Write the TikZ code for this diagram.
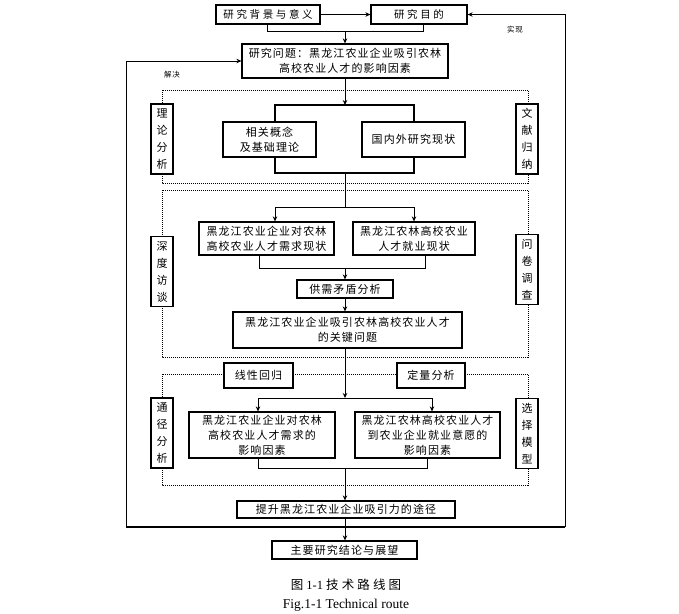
\documentclass[tikz,border=0pt]{standalone}
\usepackage{fontspec}
\setmainfont{Liberation Serif}
\newfontfamily\cjk[LetterSpace=10]{Noto Sans CJK SC}
\newfontfamily\cjkw[LetterSpace=25]{Noto Sans CJK SC}
\usetikzlibrary{arrows.meta}
\begin{document}
\begin{tikzpicture}[x=1pt,y=-1pt,
  box/.style={draw, line width=1.2pt, fill=white, inner sep=1pt, align=center,
    font=\cjk\fontsize{11}{15}\selectfont},
  side/.style={draw, line width=1.2pt, fill=white, inner sep=0pt, align=center,
    minimum width=22pt, minimum height=70pt, font=\cjk\fontsize{11}{17}\selectfont},
  conn/.style={line width=0.9pt},
  arr/.style={line width=0.9pt, -{Stealth[length=5pt,width=4.5pt]}},
  dots/.style={line width=0.9pt, dash pattern=on 1pt off 1pt},
  lab/.style={font=\cjk\fontsize{7.5}{9}\selectfont, inner sep=0pt}]
\useasboundingbox (0,0) rectangle (679,613);

% top boxes
\node[box, minimum width=104pt, minimum height=19pt, font=\cjkw\fontsize{10.5}{15}\selectfont] (bg) at (268,14.5) {研究背景与意义};
\node[box, minimum width=96pt, minimum height=19pt, font=\cjkw\fontsize{10.5}{15}\selectfont] (goal) at (419,14.5) {研究目的};
\draw[arr] (bg.east) -- (goal.west);
\coordinate (t1) at (267,31);
\coordinate (t2) at (423,31);
\coordinate (tm) at (345,31);
\draw[conn] (t1 |- bg.south) -- (t1) -- (t2) -- (t2 |- goal.south);

\node[box, minimum width=206pt, minimum height=34pt] (q) at (345,61) {研究问题：黑龙江农业企业吸引农林\\高校农业人才的影响因素};
\draw[arr] (tm) -- (q.north);

% outer loop
\coordinate (L) at (126,527);
\coordinate (R) at (565,527);
\draw[arr] (L) |- (q.west);
\draw[arr] (R) |- (goal.east);
\draw[conn, line width=1.2pt] (L) -- (R);
\node[lab] (sx) at (515,30) {实现};
\node[lab] (jj) at (172,75) {解决};

% section 1
\draw[dots] (162,90) rectangle (528,183);
\node[side] (s1l) at (162,139) {理\\论\\分\\析};
\node[side] (s1r) at (527,139) {文\\献\\归\\纳};
\coordinate (r1a) at (275,105);
\coordinate (r1b) at (414,173);
\draw[conn, line width=1.2pt] (r1a) rectangle (r1b);
\coordinate (r1t) at (345,105);
\coordinate (r1m) at (345,173);
\draw[arr] (q.south) -- (r1t);
\node[box, minimum width=93pt, minimum height=35pt] (concept) at (269.5,139.5) {相关概念\\及基础理论};
\node[box, minimum width=103pt, minimum height=35pt] (status) at (413.5,139.5) {国内外研究现状};

% section 2
\draw[dots] (162,190) rectangle (528,357);
\node[side] (s2l) at (162,271.5) {深\\度\\访\\谈};
\node[side] (s2r) at (527,269.5) {问\\卷\\调\\查};
\node[box, minimum width=135pt, minimum height=33pt] (A) at (266.5,238.5) {黑龙江农业企业对农林\\高校农业人才需求现状};
\node[box, minimum width=122pt, minimum height=33pt] (B) at (414,238.5) {黑龙江农林高校农业\\人才就业现状};
\coordinate (b2m) at (345,207);
\coordinate (b2l) at (275,207);
\coordinate (b2r) at (414,207);
\draw[conn] (r1m) -- (b2m);
\draw[conn] (b2l) -- (b2r);
\draw[arr] (b2l) -- (b2l |- A.north);
\draw[arr] (b2r) -- (b2r |- B.north);
\coordinate (u2l) at (259,268);
\coordinate (u2r) at (425,268);
\coordinate (u2m) at (345,268);
\draw[conn] (u2l |- A.south) -- (u2l) -- (u2r) -- (u2r |- B.south);
\node[box, minimum width=96pt, minimum height=18pt] (gx) at (345,289) {供需矛盾分析};
\draw[arr] (u2m) -- (gx.north);
\node[box, minimum width=229pt, minimum height=36pt] (key) at (347.5,330) {黑龙江农业企业吸引农林高校农业人才\\的关键问题};
\draw[arr] (gx.south) -- (gx.south |- key.north);

% section 3
\draw[dots] (162,374) rectangle (528,485);
\node[box, minimum width=69pt, minimum height=25pt] (xx) at (258.5,375.5) {线性回归};
\node[box, minimum width=68pt, minimum height=25pt] (dl) at (431,375.5) {定量分析};
\node[side] (s3l) at (162,433) {通\\径\\分\\析};
\node[side] (s3r) at (527,433.5) {选\\择\\模\\型};
\node[box, minimum width=146pt, minimum height=46pt] (C) at (262,435) {黑龙江农业企业对农林\\高校农业人才需求的\\影响因素};
\node[box, minimum width=145pt, minimum height=46pt] (D) at (427.5,435) {黑龙江农林高校农业人才\\到农业企业就业意愿的\\影响因素};
\coordinate (b3m) at (345,398);
\coordinate (b3l) at (258,398);
\coordinate (b3r) at (432,398);
\draw[arr] (key.south -| b3m) -- (b3m);
\draw[conn] (b3l) -- (b3r);
\draw[arr] (b3l) -- (b3l |- C.north);
\draw[arr] (b3r) -- (b3r |- D.north);
\coordinate (u3l) at (258,468);
\coordinate (u3r) at (427,468);
\coordinate (u3m) at (345,468);
\draw[conn] (u3l |- C.south) -- (u3l) -- (u3r) -- (u3r |- D.south);

\node[box, minimum width=218pt, minimum height=17pt] (ts) at (346,509.5) {提升黑龙江农业企业吸引力的途径};
\draw[arr] (u3m) -- (u3m |- ts.north);
\node[box, minimum width=145pt, minimum height=18pt] (zy) at (344.5,550) {主要研究结论与展望};
\draw[arr] (ts.south -| u3m) -- (u3m |- zy.north);

% captions
\node[inner sep=0pt, font=\fontsize{12.5}{14}\selectfont] (cap1) at (346,585) {{\cjkw 图} 1-1 {\cjkw 技术路线图}};
\node[inner sep=0pt, font=\fontsize{13.5}{15}\selectfont] (cap2) at (346,605) {Fig.1-1 Technical route};
\end{tikzpicture}
\end{document}
